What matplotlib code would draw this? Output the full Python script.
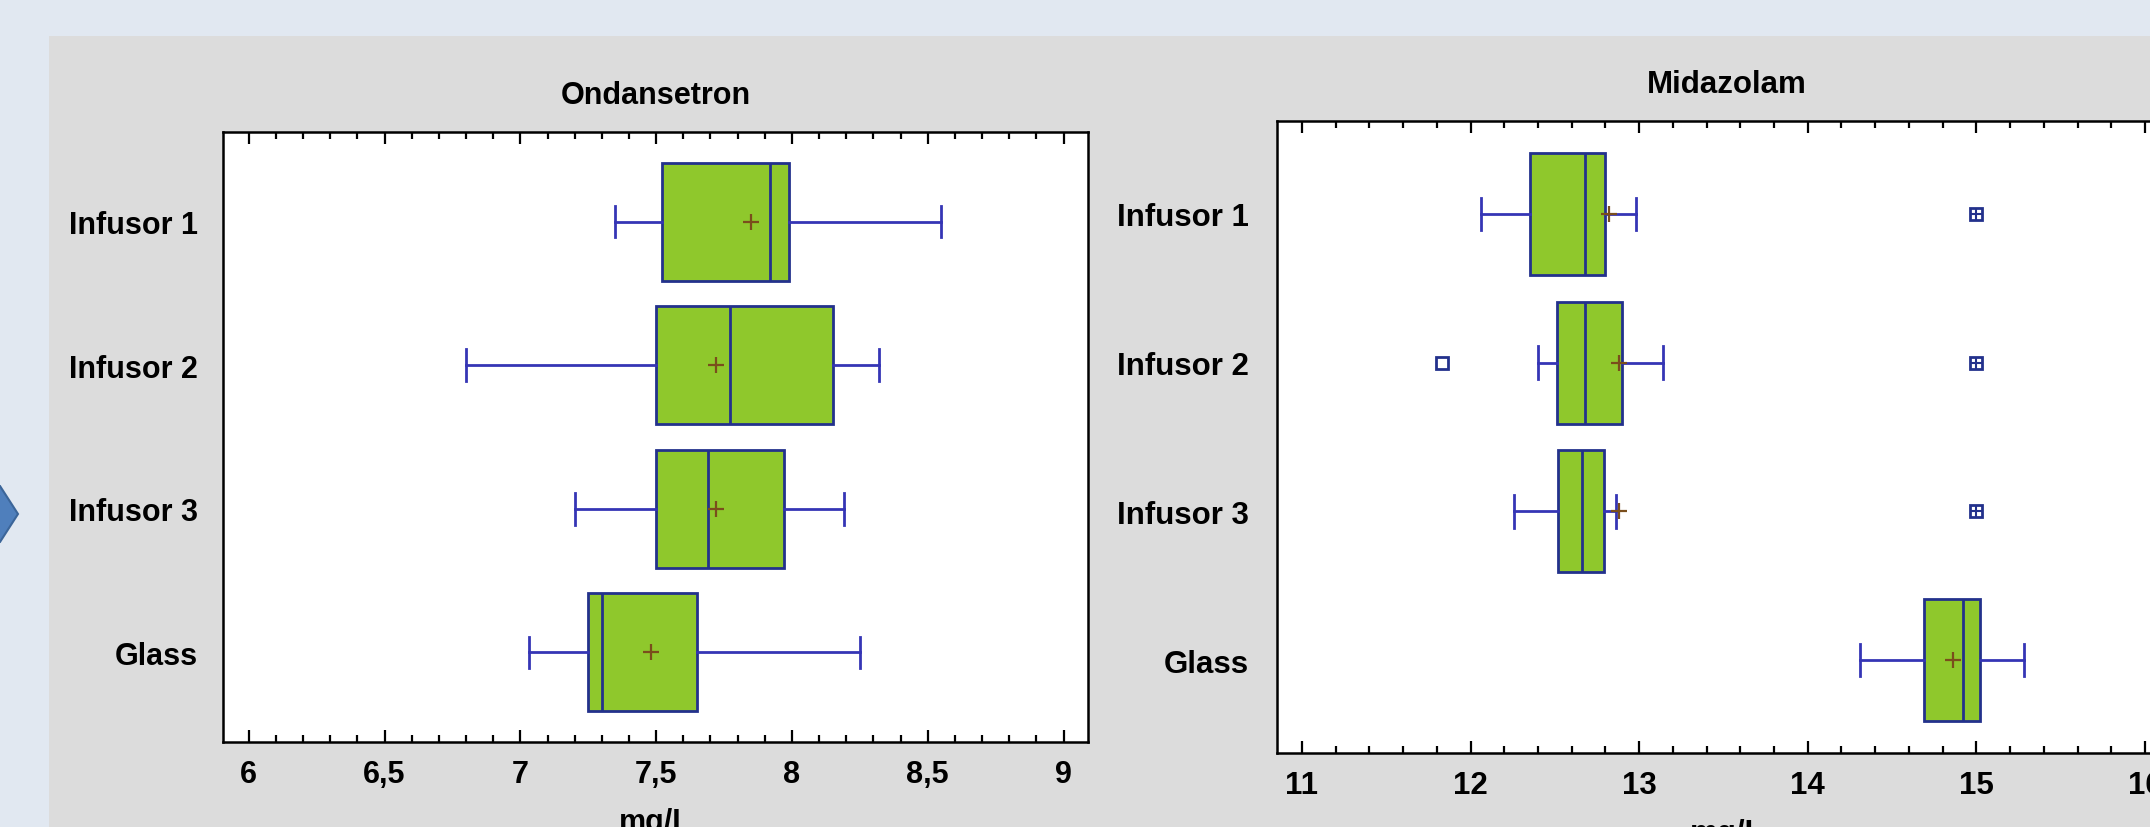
import matplotlib.pyplot as plt
from matplotlib.patches import Polygon, Rectangle
from matplotlib.ticker import MultipleLocator

# Box plot summaries (mg/L)
groups = ["Infusor 1", "Infusor 2", "Infusor 3", "Glass"]

ond_whislo = [7.35, 6.80, 7.20, 7.03]
ond_q1 = [7.52, 7.50, 7.50, 7.25]
ond_med = [7.92, 7.77, 7.69, 7.30]
ond_q3 = [7.99, 8.15, 7.97, 7.65]
ond_whishi = [8.55, 8.32, 8.19, 8.25]
ond_mean = [7.85, 7.72, 7.72, 7.48]

mid_whislo = [12.06, 12.40, 12.26, 14.31]
mid_q1 = [12.35, 12.51, 12.52, 14.69]
mid_med = [12.68, 12.68, 12.66, 14.92]
mid_q3 = [12.80, 12.90, 12.79, 15.02]
mid_whishi = [12.98, 13.14, 12.86, 15.28]
mid_mean = [12.82, 12.88, 12.88, 14.86]
mid_outside = [[], [11.83], [], []]
mid_far_outside = [[15.0], [15.0], [15.0], []]

ond_ticks = [6, 6.5, 7, 7.5, 8, 8.5, 9]
ond_ticklabels = ["6", "6,5", "7", "7,5", "8", "8,5", "9"]
mid_ticks = [11, 12, 13, 14, 15, 16]

BOX_FILL = '#8fc82c'
BOX_EDGE = '#23318c'
WHISK = '#3535b5'
MEAN_COL = '#7a4e1c'
FONT = ['Liberation Sans', 'DejaVu Sans']

plt.rcParams['font.family'] = FONT
plt.rcParams['font.weight'] = 'bold'

W, H = 2150, 828
fig = plt.figure(figsize=(W / 100, H / 100), dpi=100)
fig.patch.set_facecolor('#e1e8f1')

# grey slide panel and the blue arrow peeking in on the left
fig.patches.append(Rectangle((49 / W, 0), 1, 1 - 37 / H, transform=fig.transFigure,
                             facecolor='#dcdcdc', edgecolor='none', zorder=-2))
arrow = [(-30, 487), (0, 487), (18, 515), (0, 543), (-30, 543)]
fig.patches.append(Polygon([(x / W, 1 - y / H) for x, y in arrow], closed=True,
                           transform=fig.transFigure, facecolor='#4f7fbc',
                           edgecolor='#3b6599', linewidth=1.5, zorder=-1))


def make_stats(whislo, q1, med, q3, whishi, mean, fliers=None):
    stats = []
    for i in range(len(med)):
        stats.append(dict(whislo=whislo[i], q1=q1[i], med=med[i], q3=q3[i],
                          whishi=whishi[i], mean=mean[i],
                          fliers=fliers[i] if fliers else []))
    return stats


def draw_panel(ax, stats, title, xlim, ticks, ticklabels, minor, fs, ypad):
    positions = list(range(1, len(groups) + 1))
    ax.bxp(stats, positions=positions, widths=0.82, capwidths=0.22,
           orientation='horizontal', patch_artist=True, showmeans=True,
           showfliers=True,
           boxprops=dict(facecolor=BOX_FILL, edgecolor=BOX_EDGE, linewidth=2),
           medianprops=dict(color=BOX_EDGE, linewidth=2),
           whiskerprops=dict(color=WHISK, linewidth=2),
           capprops=dict(color=WHISK, linewidth=2),
           meanprops=dict(marker='+', markeredgecolor=MEAN_COL,
                          markersize=11, markeredgewidth=1.6),
           flierprops=dict(marker='s', markerfacecolor='white',
                           markeredgecolor=BOX_EDGE, markersize=8,
                           markeredgewidth=2, linestyle='none'))
    ax.set_xlim(*xlim)
    ax.set_ylim(4.625, 0.375)
    ax.set_yticks(positions)
    ax.set_yticklabels(groups, fontsize=fs, fontweight='bold')
    ax.tick_params(axis='y', length=0, pad=ypad)
    ax.set_xticks(ticks)
    ax.set_xticklabels(ticklabels, fontsize=fs, fontweight='bold')
    ax.xaxis.set_minor_locator(MultipleLocator(minor))
    ax.tick_params(axis='x', which='both', direction='in', top=True,
                   bottom=True, color='black', width=1.6)
    ax.tick_params(axis='x', which='major', length=8.5, pad=12)
    ax.tick_params(axis='x', which='minor', length=5)
    for sp in ax.spines.values():
        sp.set_linewidth(1.8)
    ax.set_facecolor('white')
    ax.set_title(title, fontsize=fs, fontweight='bold', pad=21)
    ax.set_xlabel('mg/L', fontsize=fs, fontweight='bold', labelpad=13)


# left panel: Ondansetron
ax1 = fig.add_axes([223 / W, 85 / H, 865 / W, 610 / H])
draw_panel(ax1, make_stats(ond_whislo, ond_q1, ond_med, ond_q3, ond_whishi, ond_mean),
           'Ondansetron', (5.905, 9.09), ond_ticks, ond_ticklabels, 0.1, 22, 18)

# right panel: Midazolam, runs past the right edge of the screenshot
ax2 = fig.add_axes([1277 / W, 74 / H, 900 / W, 632 / H])
draw_panel(ax2, make_stats(mid_whislo, mid_q1, mid_med, mid_q3, mid_whishi, mid_mean,
                           mid_outside),
           'Midazolam', (10.852, 16.19), mid_ticks, [str(t) for t in mid_ticks], 0.2,
           22.5, 20)

# far outside points: square with a plus inside
for i, vals in enumerate(mid_far_outside):
    for v in vals:
        ax2.plot(v, i + 1, marker='s', markersize=8, markerfacecolor='white',
                 markeredgecolor=BOX_EDGE, markeredgewidth=2, linestyle='none')
        ax2.plot(v, i + 1, marker='+', markersize=8, markeredgecolor=BOX_EDGE,
                 markeredgewidth=1.5, linestyle='none')

fig.savefig('out.png', dpi=100, facecolor=fig.get_facecolor())
